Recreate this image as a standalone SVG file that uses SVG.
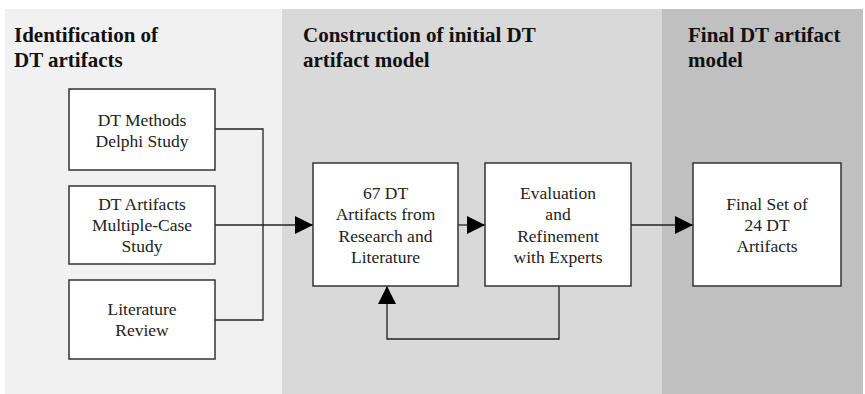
<svg xmlns="http://www.w3.org/2000/svg" width="865" height="394" viewBox="0 0 865 394">
  <style>
    .phase { font-family: 'Liberation Serif', 'Times New Roman', Times, 'DejaVu Serif', serif; font-weight: bold; font-size: 21px; fill: #111; }
    .box { fill: #fff; stroke: #333; stroke-width: 1.5; }
    .label { font-family: 'Liberation Serif', 'Times New Roman', Times, 'DejaVu Serif', serif; font-size: 17.5px; fill: #222; text-anchor: middle; }
    .wire { fill: none; stroke: #222; stroke-width: 1.3; }
  </style>
  <defs>
    <marker id="arrow" viewBox="0 0 18 18" refX="18" refY="9" markerWidth="18" markerHeight="18" markerUnits="userSpaceOnUse" orient="auto">
      <path d="M0,0 L18,9 L0,18 Z" fill="#000"/>
    </marker>
  </defs>

  <rect width="865" height="394" fill="#fff"/>

  <!-- phase backgrounds -->
  <g id="phases">
    <rect x="5" y="9" width="277" height="385" fill="#f1f1f1"/>
    <rect x="282" y="9" width="380" height="385" fill="#d9d9d9"/>
    <rect x="662" y="9" width="201" height="385" fill="#c0c0c0"/>
    <text class="phase" x="14" y="42" font-family="Liberation Serif, serif">Identification of</text>
    <text class="phase" x="14" y="67" font-family="Liberation Serif, serif">DT artifacts</text>
    <text class="phase" x="303" y="42">Construction of initial DT</text>
    <text class="phase" x="303" y="67">artifact model</text>
    <text class="phase" x="688" y="42">Final DT artifact</text>
    <text class="phase" x="688" y="67">model</text>
  </g>

  <!-- connectors -->
  <g id="connectors">
    <path class="wire" d="M215,129 H263 V320 H215"/>
    <path class="wire" d="M215,225 H313" marker-end="url(#arrow)"/>
    <path class="wire" d="M458,225 H485" marker-end="url(#arrow)"/>
    <path class="wire" d="M631,225 H693" marker-end="url(#arrow)"/>
    <path class="wire" d="M559,286 V339 H387 V286" marker-end="url(#arrow)"/>
  </g>

  <g id="delphi">
    <rect class="box" x="69" y="89" width="146" height="81"/>
    <text class="label" x="142" y="126">DT Methods</text>
    <text class="label" x="142" y="147">Delphi Study</text>
  </g>

  <g id="casestudy">
    <rect class="box" x="69" y="186" width="146" height="78"/>
    <text class="label" x="142" y="210">DT Artifacts</text>
    <text class="label" x="142" y="231">Multiple-Case</text>
    <text class="label" x="142" y="252">Study</text>
  </g>

  <g id="litreview">
    <rect class="box" x="69" y="280" width="146" height="79"/>
    <text class="label" x="142" y="315">Literature</text>
    <text class="label" x="142" y="336">Review</text>
  </g>

  <g id="initial">
    <rect class="box" x="313" y="163" width="145" height="123"/>
    <text class="label" x="385.5" y="199">67 DT</text>
    <text class="label" x="385.5" y="220">Artifacts from</text>
    <text class="label" x="385.5" y="242">Research and</text>
    <text class="label" x="385.5" y="263">Literature</text>
  </g>

  <g id="evaluation">
    <rect class="box" x="485" y="163" width="146" height="123"/>
    <text class="label" x="558" y="199">Evaluation</text>
    <text class="label" x="558" y="220">and</text>
    <text class="label" x="558" y="242">Refinement</text>
    <text class="label" x="558" y="263">with Experts</text>
  </g>

  <g id="final">
    <rect class="box" x="693" y="163" width="148" height="123"/>
    <text class="label" x="767" y="210">Final Set of</text>
    <text class="label" x="767" y="231">24 DT</text>
    <text class="label" x="767" y="252">Artifacts</text>
  </g>
</svg>
